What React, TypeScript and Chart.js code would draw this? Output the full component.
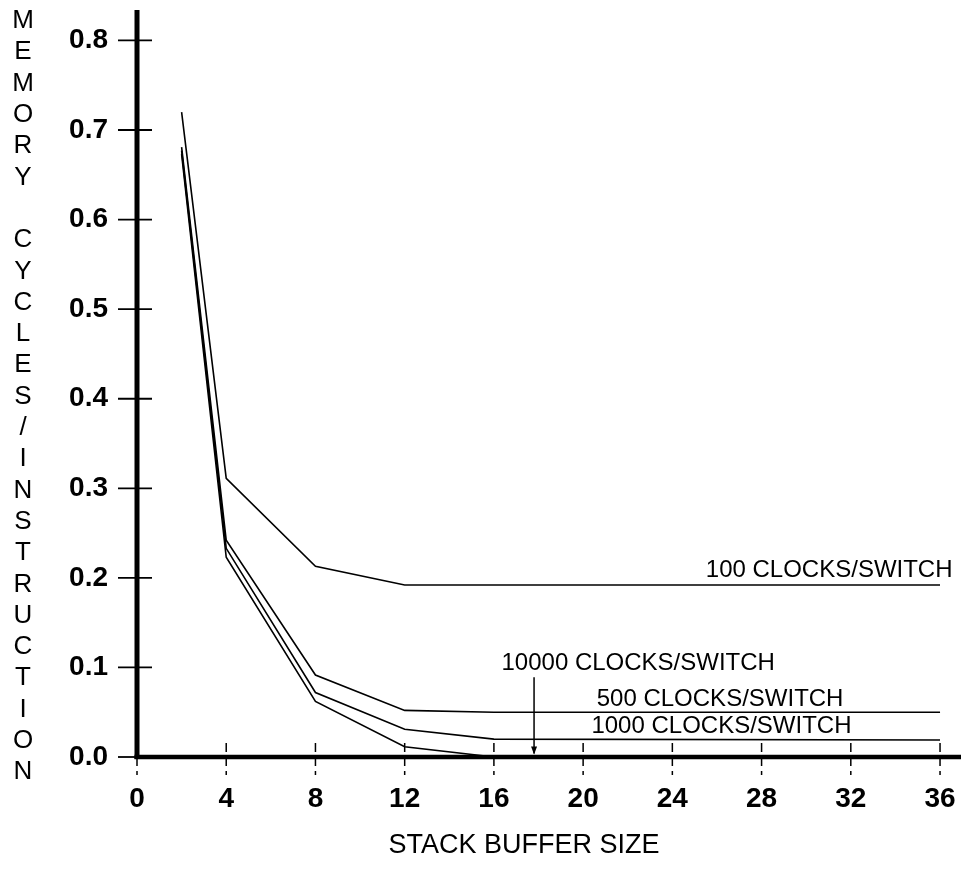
import React, { useEffect, useRef } from "react";
import { Chart, registerables } from "chart.js";

Chart.register(...registerables);

// ---- data ----
const bufferSizes = [2, 4, 8, 12, 16, 36];
const clocks100 = [0.72, 0.311, 0.213, 0.192, 0.192, 0.192];
const clocks500 = [0.681, 0.242, 0.0915, 0.052, 0.05, 0.05];
const clocks1000 = [0.677, 0.233, 0.072, 0.031, 0.02, 0.019];
const clocks10000 = [0.673, 0.223, 0.062, 0.0115, 0, 0];

const xTickValues = [0, 4, 8, 12, 16, 20, 24, 28, 32, 36];
const yTickValues = [0, 0.1, 0.2, 0.3, 0.4, 0.5, 0.6, 0.7, 0.8];

const seriesNames = [
  "100 CLOCKS/SWITCH",
  "500 CLOCKS/SWITCH",
  "1000 CLOCKS/SWITCH",
  "10000 CLOCKS/SWITCH",
];
// label anchors in data units (center x, baseline y)
const labelX = [31.03, 26.14, 26.2, 22.47];
const labelY = [0.201, 0.057, 0.027, 0.097];
// arrow for 10000 series (data units)
const arrowX = 17.8;
const arrowFromY = 0.089;
const arrowToY = 0.004;

const yTitle = "MEMORY CYCLES/INSTRUCTION";
const xTitle = "STACK BUFFER SIZE";

const FONT = "'Liberation Sans', Arial, Helvetica, sans-serif";

const pts = (ys: number[]) => bufferSizes.map((x, i) => ({ x, y: ys[i] }));

const decorPlugin = {
  id: "decor",
  afterDatasetsDraw(chart: any) {
    const ctx = chart.ctx;
    const ca = chart.chartArea;
    const xs = chart.scales.x;
    const ys = chart.scales.y;
    ctx.save();
    ctx.strokeStyle = "#000";
    ctx.fillStyle = "#000";
    ctx.lineCap = "butt";

    // y axis line
    ctx.lineWidth = 5;
    ctx.beginPath();
    ctx.moveTo(ca.left, ca.top);
    ctx.lineTo(ca.left, ca.bottom + 2);
    ctx.stroke();
    // x axis line
    ctx.lineWidth = 4.5;
    ctx.beginPath();
    ctx.moveTo(ca.left - 2.5, ca.bottom);
    ctx.lineTo(chart.width, ca.bottom);
    ctx.stroke();

    // y ticks crossing axis
    ctx.lineWidth = 1.8;
    yTickValues.forEach((v) => {
      const py = ys.getPixelForValue(v);
      ctx.beginPath();
      ctx.moveTo(ca.left - 19, py);
      ctx.lineTo(ca.left + (v === 0 ? 0 : 15), py);
      ctx.stroke();
    });
    // x ticks dashed crossing axis
    ctx.lineWidth = 1.5;
    ctx.setLineDash([9, 5]);
    xTickValues.forEach((v) => {
      const px = xs.getPixelForValue(v);
      ctx.beginPath();
      ctx.moveTo(px, ca.bottom - 14);
      ctx.lineTo(px, ca.bottom + 18);
      ctx.stroke();
    });
    ctx.setLineDash([]);

    // series labels
    ctx.font = `24px ${FONT}`;
    ctx.textAlign = "center";
    ctx.textBaseline = "alphabetic";
    seriesNames.forEach((name, i) => {
      ctx.fillText(name, xs.getPixelForValue(labelX[i]), ys.getPixelForValue(labelY[i]));
    });

    // arrow
    const ax = xs.getPixelForValue(arrowX);
    const ay1 = ys.getPixelForValue(arrowFromY);
    const ay2 = ys.getPixelForValue(arrowToY);
    ctx.lineWidth = 1.5;
    ctx.beginPath();
    ctx.moveTo(ax, ay1);
    ctx.lineTo(ax, ay2);
    ctx.stroke();
    ctx.beginPath();
    ctx.moveTo(ax, ay2 + 1);
    ctx.lineTo(ax - 3, ay2 - 7);
    ctx.lineTo(ax + 3, ay2 - 7);
    ctx.closePath();
    ctx.fill();

    // vertical stacked y title
    ctx.font = `26px ${FONT}`;
    ctx.textAlign = "center";
    ctx.textBaseline = "middle";
    const step = 31.3;
    for (let i = 0; i < yTitle.length; i++) {
      const ch = yTitle[i];
      if (ch === " ") continue;
      ctx.fillText(ch, 23, 21 + i * step);
    }

    // x title
    ctx.font = `27px ${FONT}`;
    ctx.textAlign = "center";
    ctx.textBaseline = "middle";
    ctx.fillText(xTitle, 524, 846);

    ctx.restore();
  },
};

export default function App() {
  const ref = useRef<HTMLCanvasElement>(null);
  useEffect(() => {
    if (!ref.current) return;
    const line = (data: number[]) => ({
      data: pts(data),
      borderColor: "#000",
      backgroundColor: "#000",
      borderWidth: 1.6,
      pointRadius: 0,
      tension: 0,
      fill: false,
    });
    const chart = new Chart(ref.current, {
      type: "line",
      data: {
        datasets: [
          { label: seriesNames[0], ...line(clocks100) },
          { label: seriesNames[1], ...line(clocks500) },
          { label: seriesNames[2], ...line(clocks1000) },
          { label: seriesNames[3], ...line(clocks10000) },
        ],
      },
      options: {
        animation: false,
        responsive: false,
        devicePixelRatio: 1,
        layout: { padding: { top: 10, right: 0, left: 0, bottom: 0 }, autoPadding: false },
        plugins: { legend: { display: false }, tooltip: { enabled: false } },
        scales: {
          x: {
            type: "linear",
            min: 0,
            max: 36.94,
            grid: { display: false, drawTicks: false },
            border: { display: false },
            afterBuildTicks: (s: any) => {
              s.ticks = xTickValues.map((v) => ({ value: v }));
            },
            afterFit: (s: any) => {
              s.height = 112;
              s.paddingLeft = 0;
              s.paddingRight = 0;
              s.paddingTop = 0;
              s.paddingBottom = 0;
            },
            ticks: {
              color: "#000",
              padding: 25,
              maxRotation: 0,
              autoSkip: false,
              font: { family: FONT, size: 28, weight: "bold" },
              callback: (v: any) => String(v),
            },
          },
          y: {
            type: "linear",
            min: 0,
            max: 0.834,
            grid: { display: false, drawTicks: false },
            border: { display: false },
            afterBuildTicks: (s: any) => {
              s.ticks = yTickValues.map((v) => ({ value: v }));
            },
            afterFit: (s: any) => {
              s.width = 137;
              s.paddingLeft = 0;
              s.paddingRight = 0;
              s.paddingTop = 0;
              s.paddingBottom = 0;
            },
            ticks: {
              color: "#000",
              padding: 29,
              autoSkip: false,
              font: { family: FONT, size: 28, weight: "bold" },
              callback: (v: any) => Number(v).toFixed(1),
            },
          },
        },
      },
      plugins: [decorPlugin],
    });
    return () => chart.destroy();
  }, []);
  return (
    <div style={{ position: "fixed", left: 0, top: 0, width: 961, height: 869, background: "#fff" }}>
      <canvas ref={ref} width={961} height={869} style={{ display: "block" }} />
    </div>
  );
}
